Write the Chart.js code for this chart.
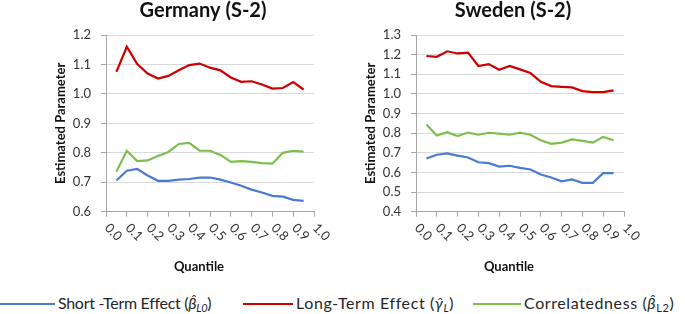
<!DOCTYPE html>
<html>
<head>
<meta charset="utf-8">
<script src="https://cdn.jsdelivr.net/npm/chart.js@4.4.1/dist/chart.umd.min.js"></script>
<style>
  html, body { margin: 0; padding: 0; background: #ffffff; }
  #wrap { position: relative; width: 685px; height: 314px; overflow: hidden; font-family: Lato, "Open Sans", sans-serif; }
  canvas { position: absolute; top: 0; }
  #cGer { left: 0; }
  #cSwe { left: 310px; }
  #legend { position: absolute; left: 0; top: 292px; width: 685px; height: 22px; }
  .item { position: absolute; top: 0; height: 22px; line-height: 22px; font-size: 16px; color: #262626; white-space: nowrap; }
  .swatch { display: inline-block; width: 50px; height: 2.5px; vertical-align: middle; margin-right: 3px; position: relative; top: -1px; }
  sub { font-size: 11px; vertical-align: -3px; line-height: 0; }
</style>
</head>
<body>
<div id="wrap">
  <canvas id="cGer" width="330" height="285"></canvas>
  <canvas id="cSwe" width="330" height="285"></canvas>
  <div id="legend">
    <div class="item" style="left:0px; letter-spacing:-0.3px"><span class="swatch" style="background:#4A7BD0; width:55px"></span>Short -Term Effect (<i>β̂</i><sub><i>L0</i></sub>)</div>
    <div class="item" style="left:243px; letter-spacing:0.6px"><span class="swatch" style="background:#CC0000"></span>Long-Term Effect (<i>γ̂</i><sub><i>L</i></sub>)</div>
    <div class="item" style="left:473px; letter-spacing:0.6px"><span class="swatch" style="background:#7CBF4C; width:48px"></span>Correlatedness (<i>β̂</i><sub>L2</sub>)</div>
  </div>
</div>
<script>
// ---- data ----
const quantiles = [0.05, 0.10, 0.15, 0.20, 0.25, 0.30, 0.35, 0.40, 0.45, 0.50,
                   0.55, 0.60, 0.65, 0.70, 0.75, 0.80, 0.85, 0.90, 0.95];

const germanyShortTerm = [0.706, 0.739, 0.745, 0.723, 0.705, 0.705, 0.709, 0.711, 0.716, 0.716,
                          0.709, 0.699, 0.688, 0.675, 0.665, 0.654, 0.651, 0.640, 0.637];
const germanyLongTerm  = [1.075, 1.160, 1.101, 1.069, 1.052, 1.061, 1.080, 1.098, 1.103, 1.089,
                          1.080, 1.056, 1.041, 1.043, 1.032, 1.018, 1.020, 1.040, 1.015];
const germanyCorrelatedness = [0.736, 0.807, 0.772, 0.774, 0.789, 0.803, 0.830, 0.834, 0.807, 0.807,
                               0.793, 0.769, 0.772, 0.769, 0.765, 0.763, 0.800, 0.807, 0.804];

const swedenShortTerm = [0.671, 0.690, 0.697, 0.686, 0.676, 0.652, 0.647, 0.630, 0.634, 0.623,
                         0.615, 0.589, 0.574, 0.555, 0.564, 0.547, 0.547, 0.596, 0.596];
const swedenLongTerm  = [1.193, 1.189, 1.217, 1.206, 1.210, 1.142, 1.152, 1.123, 1.142, 1.125,
                         1.106, 1.062, 1.040, 1.036, 1.033, 1.014, 1.009, 1.009, 1.018];
const swedenCorrelatedness = [0.844, 0.788, 0.805, 0.785, 0.803, 0.792, 0.802, 0.798, 0.792, 0.803,
                              0.792, 0.764, 0.746, 0.752, 0.768, 0.761, 0.752, 0.781, 0.764];

const xAxisRange = [0.0, 1.0];      // tick labels 0.0 ... 1.0
const xTickStep = 0.1;
const germanyYRange = [0.6, 1.2];   // tick labels 0.6 ... 1.2
const swedenYRange = [0.4, 1.3];    // tick labels 0.4 ... 1.3
const yTickStep = 0.1;

const seriesNames = ['Short -Term Effect', 'Long-Term Effect', 'Correlatedness'];
const seriesColors = ['#4A7BD0', '#CC0000', '#7CBF4C'];

// ---- drawing ----
const FONT = 'Lato, "Open Sans", sans-serif';
const TEXT = '#333333';
const AXIS = '#a6a6a6';
const GRID = '#d9d9d9';

const overlayPlugin = {
  id: 'overlay',
  afterDraw(chart, args, opts) {
    const ctx = chart.ctx;
    const xs = chart.scales.x;
    const area = chart.chartArea;
    ctx.save();
    // chart title
    ctx.fillStyle = '#111111';
    ctx.font = 'bold 20px ' + FONT;
    ctx.textAlign = 'center';
    ctx.textBaseline = 'middle';
    ctx.fillText(opts.title, opts.centerX, 11);
    // x tick labels, rotated clockwise
    ctx.font = '13px ' + FONT;
    ctx.fillStyle = TEXT;
    ctx.textAlign = 'left';
    ctx.textBaseline = 'middle';
    xs.ticks.forEach(t => {
      const px = xs.getPixelForValue(t.value);
      ctx.save();
      ctx.translate(px + 1, area.bottom + 14);
      ctx.rotate(Math.PI / 4);
      ctx.fillText(t.value.toFixed(1), 0, 0);
      ctx.restore();
    });
    // x axis title
    ctx.font = 'bold 13px ' + FONT;
    ctx.fillStyle = '#111111';
    ctx.textAlign = 'center';
    ctx.fillText('Quantile', opts.centerX - 4, 267);
    ctx.restore();
  }
};

function makeChart(id, title, yRange, series) {
  const datasets = series.map((vals, i) => ({
    label: seriesNames[i],
    data: quantiles.map((q, k) => ({ x: q, y: vals[k] })),
    borderColor: seriesColors[i],
    backgroundColor: seriesColors[i],
    borderWidth: 2.2,
    pointRadius: 0,
    tension: 0,
    fill: false
  }));
  return new Chart(document.getElementById(id), {
    type: 'line',
    data: { datasets },
    plugins: [overlayPlugin],
    options: {
      responsive: false,
      animation: false,
      devicePixelRatio: 1,
      layout: { padding: { left: 0, top: 35, right: 16, bottom: 0 } },
      plugins: {
        legend: { display: false },
        tooltip: { enabled: false },
        title: { display: false },
        overlay: { title: title, centerX: 203 }
      },
      scales: {
        x: {
          type: 'linear',
          min: xAxisRange[0],
          max: xAxisRange[1],
          afterFit: s => { s.height = 73.3; },
          ticks: { display: false, stepSize: xTickStep },
          grid: { drawOnChartArea: false, drawTicks: true, tickLength: 5, color: AXIS, tickColor: AXIS },
          border: { color: AXIS, width: 1 }
        },
        y: {
          min: yRange[0],
          max: yRange[1],
          afterFit: s => { s.width = 106; },
          ticks: {
            stepSize: yTickStep,
            padding: 10,
            color: TEXT,
            font: { family: FONT, size: 13 },
            callback: v => Number(v).toFixed(1)
          },
          grid: { color: GRID, lineWidth: 1, drawTicks: true, tickLength: 5, tickColor: AXIS },
          border: { color: AXIS, width: 1 },
          title: {
            display: true,
            text: 'Estimated Parameter',
            color: '#111111',
            font: { family: FONT, size: 13, weight: 'bold' },
            padding: { top: 53.2, bottom: 0 }
          }
        }
      }
    }
  });
}

makeChart('cGer', 'Germany (S-2)', germanyYRange, [germanyShortTerm, germanyLongTerm, germanyCorrelatedness]);
makeChart('cSwe', 'Sweden (S-2)', swedenYRange, [swedenShortTerm, swedenLongTerm, swedenCorrelatedness]);
</script>
</body>
</html>
